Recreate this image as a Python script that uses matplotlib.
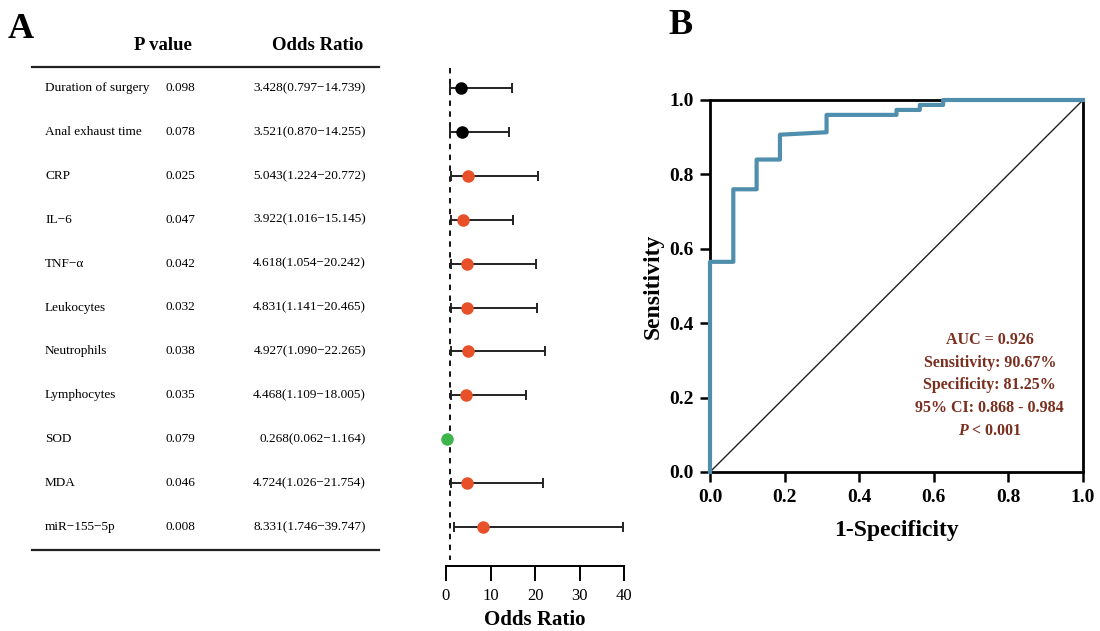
import matplotlib
matplotlib.use("Agg")
import matplotlib.pyplot as plt

plt.rcParams['font.family'] = ['Liberation Serif', 'DejaVu Serif']
plt.rcParams['mathtext.fontset'] = 'custom'
plt.rcParams['mathtext.rm'] = 'Liberation Serif'
plt.rcParams['mathtext.it'] = 'Liberation Serif:italic:bold'
plt.rcParams['mathtext.bf'] = 'Liberation Serif:bold'

# Panel A data
variables = ['Duration of surgery', 'Anal exhaust time', 'CRP', 'IL\u22126', 'TNF\u2212\u03b1',
             'Leukocytes', 'Neutrophils', 'Lymphocytes', 'SOD', 'MDA', 'miR\u2212155\u22125p']
p_values = [0.098, 0.078, 0.025, 0.047, 0.042, 0.032, 0.038, 0.035, 0.079, 0.046, 0.008]
odds = [3.428, 3.521, 5.043, 3.922, 4.618, 4.831, 4.927, 4.468, 0.268, 4.724, 8.331]
ci_low = [0.797, 0.870, 1.224, 1.016, 1.054, 1.141, 1.090, 1.109, 0.062, 1.026, 1.746]
ci_high = [14.739, 14.255, 20.772, 15.145, 20.242, 20.465, 22.265, 18.005, 1.164, 21.754, 39.747]
point_colors = ['black', 'black', '#E8502A', '#E8502A', '#E8502A', '#E8502A',
                '#E8502A', '#E8502A', '#3DB54A', '#E8502A', '#E8502A']

# Panel B data (ROC curve)
fpr = [0, 0, 0.0625, 0.0625, 0.125, 0.125, 0.1875, 0.1875, 0.3125, 0.3125,
       0.5, 0.5, 0.5625, 0.5625, 0.625, 0.625, 1.0]
tpr = [0, 0.565, 0.565, 0.76, 0.76, 0.84, 0.84, 0.9067, 0.9133, 0.96,
       0.96, 0.9733, 0.9733, 0.9867, 0.9867, 1.0, 1.0]
roc_text = ['AUC = 0.926', 'Sensitivity: 90.67%', 'Specificity: 81.25%',
            '95% CI: 0.868 - 0.984', r'$\mathit{P}$ < 0.001']

W, H = 1100, 631
fig = plt.figure(figsize=(11, 6.31), dpi=100)


def fr(x0, y0, x1, y1):
    return [x0 / W, 1 - y1 / H, (x1 - x0) / W, (y1 - y0) / H]


n = len(variables)
row0, step = 88, 43.9
ylims = ((566 - row0) / step, (66 - row0) / step)

# table overlay
ax_t = fig.add_axes(fr(0, 66, W, 566))
ax_t.set_xlim(0, W)
ax_t.set_ylim(*ylims)
ax_t.axis('off')
ax_t.text(163, (45 - row0) / step, 'P value', ha='center', va='center', fontsize=13.5, fontweight='bold')
ax_t.text(318, (45 - row0) / step, 'Odds Ratio', ha='center', va='center', fontsize=13.5, fontweight='bold')
ax_t.plot([32, 379], [(67 - row0) / step] * 2, color='#222222', lw=1.6, clip_on=False)
ax_t.plot([32, 379], [(550 - row0) / step] * 2, color='#222222', lw=1.6, clip_on=False)
for i in range(n):
    ax_t.text(45, i, variables[i], ha='left', va='center', fontsize=9.5)
    ax_t.text(166, i, f'{p_values[i]:.3f}', ha='left', va='center', fontsize=9.5)
    ax_t.text(366, i, f'{odds[i]:.3f}({ci_low[i]:.3f}\u2212{ci_high[i]:.3f})',
              ha='right', va='center', fontsize=9.5)

# forest plot
ax_f = fig.add_axes(fr(446, 66, 624, 566))
ax_f.set_xlim(0, 40)
ax_f.set_ylim(*ylims)
ax_f.plot([1, 1], [-0.45, 10.75], ls=(0, (3, 3)), color='black', lw=1.3, clip_on=False)
for i in range(n):
    if variables[i] != 'SOD':
        ax_f.errorbar(odds[i], i, xerr=[[odds[i] - ci_low[i]], [ci_high[i] - odds[i]]],
                      fmt='none', ecolor='#222222', elinewidth=1.4, capsize=3.5, capthick=1.4)
    ax_f.plot(odds[i], i, 'o', color=point_colors[i], markersize=8, clip_on=False, zorder=3)
for s in ['top', 'right', 'left']:
    ax_f.spines[s].set_visible(False)
ax_f.spines['bottom'].set_linewidth(1.4)
ax_f.set_yticks([])
ax_f.set_xticks([0, 10, 20, 30, 40])
ax_f.tick_params(axis='x', length=11, width=1.4, labelsize=12, pad=5)
ax_f.set_xlabel('Odds Ratio', fontsize=15, fontweight='bold', labelpad=4)

# ROC
ax_r = fig.add_axes(fr(710, 100, 1083, 472))
ax_r.plot([0, 1], [0, 1], color='#222222', lw=1)
ax_r.plot(fpr, tpr, color='#4F8EAD', lw=3, clip_on=False, zorder=3)
ax_r.set_xlim(0, 1)
ax_r.set_ylim(0, 1)
ax_r.set_xticks([0, 0.2, 0.4, 0.6, 0.8, 1.0])
ax_r.set_yticks([0, 0.2, 0.4, 0.6, 0.8, 1.0])
ax_r.set_xticklabels(['0.0', '0.2', '0.4', '0.6', '0.8', '1.0'])
ax_r.set_yticklabels(['0.0', '0.2', '0.4', '0.6', '0.8', '1.0'])
for s in ax_r.spines.values():
    s.set_linewidth(2)
ax_r.tick_params(length=7, width=1.8, labelsize=14, pad=5)
for lab in ax_r.get_xticklabels() + ax_r.get_yticklabels():
    lab.set_fontweight('bold')
ax_r.set_xlabel('1-Specificity', fontsize=17, fontweight='bold', labelpad=10)
ax_r.set_ylabel('Sensitivity', fontsize=17, fontweight='bold', labelpad=4)
for j, t in enumerate(roc_text):
    ax_r.text(0.75, 0.355 - j * 0.061, t, ha='center', va='center', fontsize=11.5,
              fontweight='bold', color='#7A2E1E')

fig.text(8 / W, 1 - 29 / H, 'A', fontsize=26, fontweight='bold', va='center')
fig.text(668 / W, 1 - 25 / H, 'B', fontsize=26, fontweight='bold', va='center')

fig.savefig('out.png', dpi=100)
